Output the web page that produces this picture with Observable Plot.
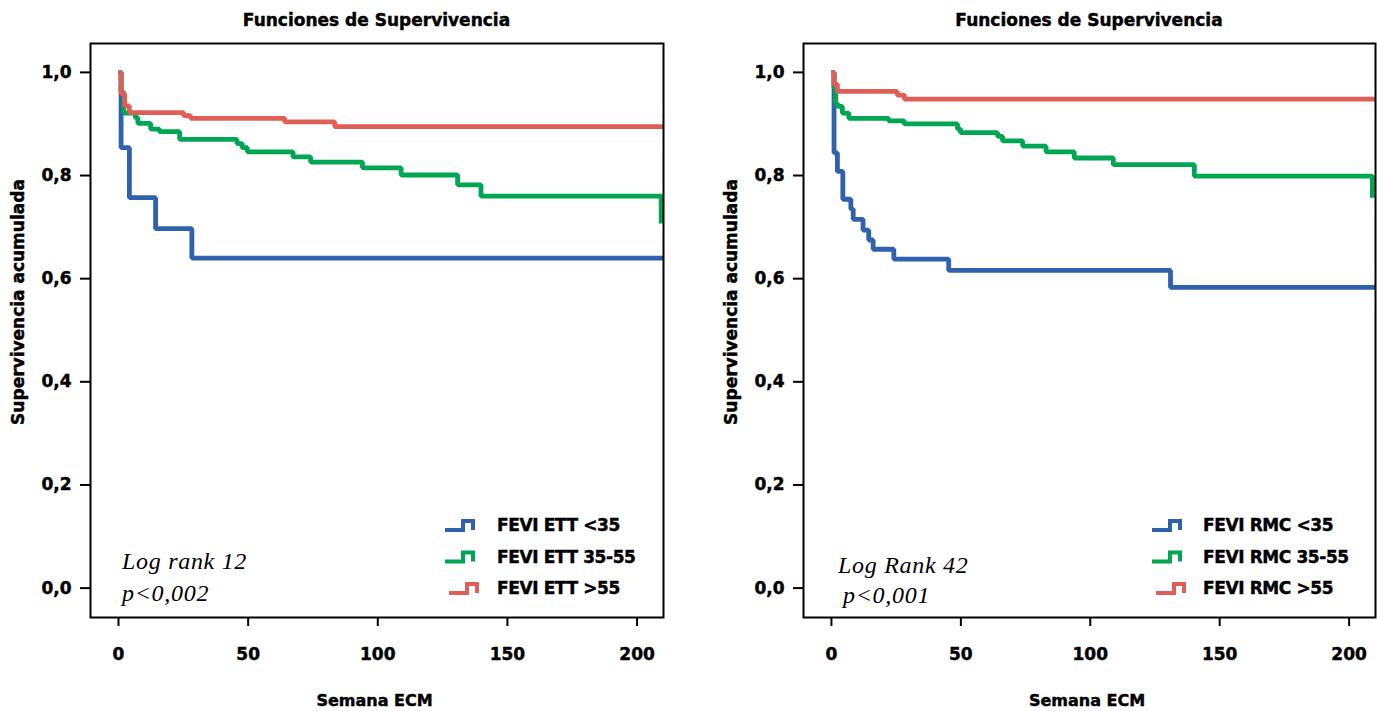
<!DOCTYPE html>
<html>
<head>
<meta charset="utf-8">
<script src="https://cdn.jsdelivr.net/npm/d3@7"></script>
<script src="https://cdn.jsdelivr.net/npm/@observablehq/plot@0.6"></script>
<style>
  html, body { margin: 0; padding: 0; background: #fff; }
  #wrap { display: flex; width: 1377px; height: 711px; overflow: hidden; }
  #wrap svg { display: block; color: #000; }
  #wrap svg text:not(.serif) { stroke: #000; stroke-width: 0.45px; }
</style>
</head>
<body>
<div id="wrap"></div>
<script>
// ---------- Data ----------
const xTicks = [0, 50, 100, 150, 200];
const yTicks = [0, 0.2, 0.4, 0.6, 0.8, 1.0];
const titles = ["Funciones de Supervivencia", "Funciones de Supervivencia"];
const xLabel = "Semana ECM";
const yLabel = "Supervivencia acumulada";
const colors = ["#2f61ad", "#00a651", "#e05e58"];

// Panel 1: FEVI ETT
const ettLabels = ["FEVI ETT <35", "FEVI ETT 35-55", "FEVI ETT >55"];
const ettLowT  = [0, 1.0, 4.2, 14.3, 28.3, 210.2];
const ettLowS  = [1, 0.854, 0.757, 0.697, 0.640, 0.640];
const ettMidT  = [0, 1.0, 2.0, 6.5, 7.5, 12.4, 15.8, 23.6, 45.7, 47.7, 49.7, 67.3, 74.1, 94.1, 109.0, 130.8, 139.8, 209.3];
const ettMidS  = [1, 0.962, 0.921, 0.912, 0.901, 0.890, 0.885, 0.870, 0.862, 0.854, 0.846, 0.836, 0.826, 0.815, 0.801, 0.782, 0.760, 0.707];
const ettHighT = [0, 1.0, 2.4, 4.2, 25.1, 27.8, 64.1, 83.4, 210.2];
const ettHighS = [1, 0.959, 0.935, 0.922, 0.916, 0.911, 0.904, 0.895, 0.895];
const ettStat  = ["Log rank 12", "p<0,002"];

// Panel 2: FEVI RMC
const rmcLabels = ["FEVI RMC <35", "FEVI RMC 35-55", "FEVI RMC >55"];
const rmcLowT  = [0, 1.0, 2.3, 4.4, 7.5, 8.4, 12.2, 14.4, 16.1, 24.1, 45.3, 131.0, 210.2];
const rmcLowS  = [1, 0.844, 0.808, 0.754, 0.735, 0.715, 0.694, 0.675, 0.657, 0.638, 0.616, 0.583, 0.583];
const rmcMidT  = [0, 1.0, 1.6, 2.3, 4.2, 6.7, 22.1, 28.1, 48.7, 49.9, 64.2, 66.1, 73.9, 82.9, 93.8, 108.9, 140.2, 209.0];
const rmcMidS  = [1, 0.970, 0.940, 0.934, 0.921, 0.911, 0.906, 0.900, 0.890, 0.883, 0.876, 0.867, 0.857, 0.846, 0.834, 0.821, 0.799, 0.757];
const rmcHighT = [0, 1.0, 2.3, 25.4, 28.2, 210.2];
const rmcHighS = [1, 0.977, 0.963, 0.956, 0.948, 0.948];
const rmcStat  = ["Log Rank 42", "p<0,001"];

// ---------- Helpers ----------
const toRows = (T, S) => T.map((t, i) => ({t, s: S[i]}));
const BOLD = "DejaVu Sans";

function overlay(cfg) {
  return (index, scales, values, dims) => {
    const d = dims || {};
    const width = d.width ?? cfg.width, height = d.height ?? 711;
    const L = d.marginLeft ?? 90, R = width - (d.marginRight ?? cfg.marginRight);
    const B = height - (d.marginBottom ?? 94);
    const g = d3.create("svg:g").attr("text-anchor", "start");
    const cx = (L + R) / 2;
    // Title
    g.append("text").attr("x", cx).attr("y", 26).attr("text-anchor", "middle")
      .attr("font-family", BOLD).attr("font-weight", "bold").attr("font-size", 17)
      .text(cfg.title);
    // X label
    g.append("text").attr("x", cx - 2).attr("y", 706).attr("text-anchor", "middle")
      .attr("font-family", BOLD).attr("font-weight", "bold").attr("font-size", 16)
      .text(xLabel);
    // Y label
    g.append("text").attr("transform", `translate(${L - 66},302) rotate(-90)`)
      .attr("text-anchor", "middle")
      .attr("font-family", BOLD).attr("font-weight", "bold").attr("font-size", 17)
      .text(yLabel);
    // Legend
    const rows = [B - 92, B - 60.5, B - 29];
    cfg.labels.forEach((lab, i) => {
      const r = rows[i];
      const x0 = L + cfg.symX + (i === 2 ? 4 : 0);
      const lo = r + 5, hi = r - 4;
      g.append("path")
        .attr("d", `M${x0},${lo}H${x0 + 18}V${hi}H${x0 + 28}V${lo}`)
        .attr("fill", "none").attr("stroke", colors[i]).attr("stroke-width", 4)
        .attr("stroke-linejoin", "miter").attr("stroke-linecap", "butt");
      g.append("text").attr("x", L + cfg.textX).attr("y", r + 6.2)
        .attr("text-anchor", "start")
        .attr("font-family", BOLD).attr("font-weight", "bold").attr("font-size", 17)
        .attr("letter-spacing", "-0.4")
        .text(lab);
    });
    // Log rank annotation
    cfg.stat.forEach((s, i) => {
      g.append("text").attr("class", "serif")
        .attr("x", L + cfg.statX[i]).attr("y", B + cfg.statY[i])
        .attr("text-anchor", "start")
        .attr("font-family", "Liberation Serif").attr("font-style", "italic")
        .attr("font-weight", "normal")
        .attr("font-size", 24).attr("letter-spacing", "0.7")
        .text(s);
    });
    return g.node();
  };
}

function panel(cfg) {
  const lines = cfg.series.map((rows, i) =>
    Plot.line(rows, {
      x: "t", y: "s", stroke: colors[i], strokeWidth: 4.8,
      curve: "step-after", strokeLinejoin: "miter", strokeLinecap: "butt", clip: true
    })
  );
  const svg = Plot.plot({
    width: cfg.width,
    height: 711,
    marginLeft: 90,
    marginRight: cfg.marginRight,
    marginTop: 43,
    marginBottom: 94,
    style: {fontFamily: BOLD, fontSize: "17px", fontWeight: "bold", background: "#fff", color: "#000"},
    x: {domain: [-10.8, 210.2], ticks: xTicks, tickSize: 9, tickPadding: 21, label: null, tickFormat: d => String(d)},
    y: {domain: [-0.057, 1.056], ticks: yTicks, tickSize: 10, tickPadding: 9, label: null,
        tickFormat: v => v.toFixed(1).replace(".", ",")},
    marks: [
      ...lines,
      Plot.frame({stroke: "#000", strokeWidth: 2}),
      overlay(cfg)
    ]
  });
  const s = d3.select(svg);
  s.selectAll('[aria-label="x-axis tick"], [aria-label="y-axis tick"]').attr("stroke-width", 2);
  s.selectAll('g[aria-label="x-axis"] line, g[aria-label="y-axis"] line').attr("stroke-width", 2);
  return svg;
}

const wrap = document.getElementById("wrap");
wrap.appendChild(panel({
  width: 713, marginRight: 50, title: titles[0], labels: ettLabels,
  series: [toRows(ettLowT, ettLowS), toRows(ettMidT, ettMidS), toRows(ettHighT, ettHighS)],
  symX: 355, textX: 407, stat: ettStat, statX: [32, 32], statY: [-48, -16]
}));
wrap.appendChild(panel({
  width: 664, marginRight: 2, title: titles[1], labels: rmcLabels,
  series: [toRows(rmcLowT, rmcLowS), toRows(rmcMidT, rmcMidS), toRows(rmcHighT, rmcHighS)],
  symX: 349, textX: 400, stat: rmcStat, statX: [35, 40], statY: [-44, -14]
}));
</script>
</body>
</html>
